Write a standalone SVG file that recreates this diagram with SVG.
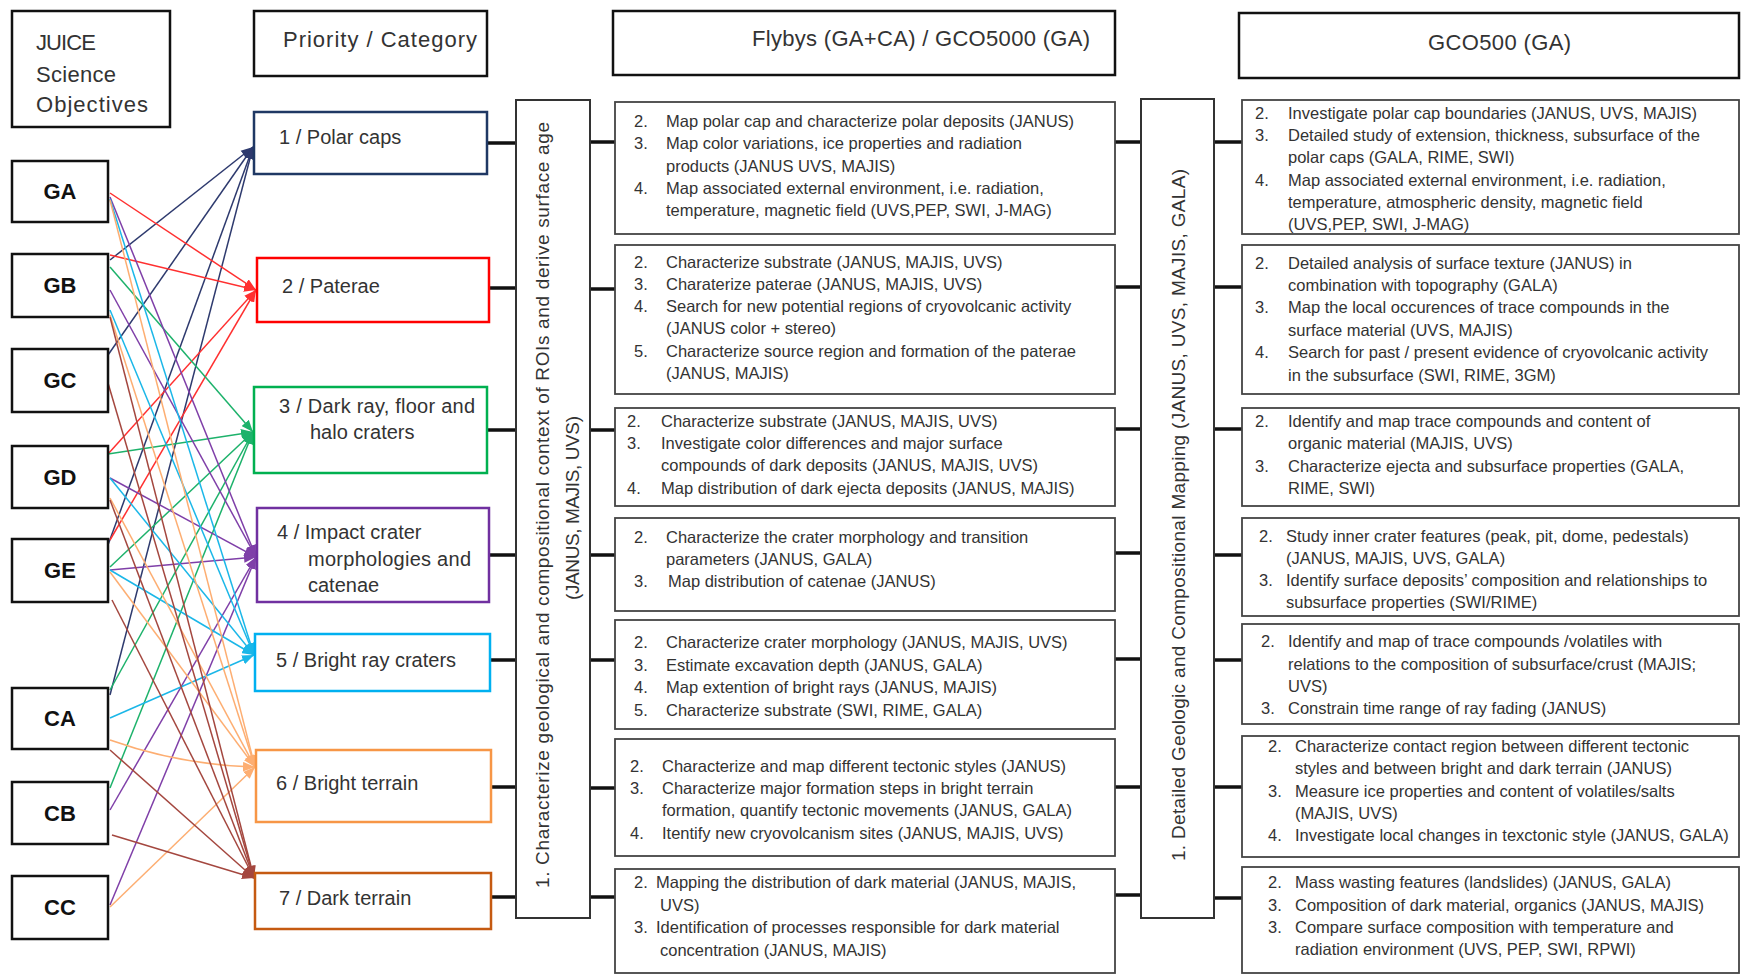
<svg xmlns="http://www.w3.org/2000/svg" width="1741" height="975" viewBox="0 0 1741 975">
<style>
text{font-family:"Liberation Sans",Arial,sans-serif;fill:#333}
.hdr rect,.obj rect{fill:#fff;stroke:#111;stroke-width:2.5}
.hdr text{font-size:22px}
.obj text{font-size:22px;font-weight:bold;fill:#111;text-anchor:middle}
.cat rect{fill:#fff;stroke-width:2.5}
.cat text{font-size:20px}
.box rect{fill:#fff;stroke:#444;stroke-width:1.8}
.box text{font-size:16.5px}
.vbox rect{fill:#fff;stroke:#333;stroke-width:2}
.vbox text{font-size:19px}
.stub line{stroke:#111;stroke-width:3.5}
.edges line,.edges path{stroke-width:1.5;fill:none}
.nv{stroke:#2E3A6E}.rd{stroke:#FF3030}.gr{stroke:#1DB26B}.pu{stroke:#7F3FA8}.cy{stroke:#1BB7E8}.or{stroke:#FDAE72}.br{stroke:#A4473F}
</style>
<defs>
<marker id="mnv" viewBox="0 0 10 8" refX="10" refY="4" markerWidth="12" markerHeight="10" markerUnits="userSpaceOnUse" orient="auto"><path d="M0,0L10,4L0,8z" fill="#2E3A6E"/></marker>
<marker id="mrd" viewBox="0 0 10 8" refX="10" refY="4" markerWidth="12" markerHeight="10" markerUnits="userSpaceOnUse" orient="auto"><path d="M0,0L10,4L0,8z" fill="#FF3030"/></marker>
<marker id="mgr" viewBox="0 0 10 8" refX="10" refY="4" markerWidth="12" markerHeight="10" markerUnits="userSpaceOnUse" orient="auto"><path d="M0,0L10,4L0,8z" fill="#1DB26B"/></marker>
<marker id="mpu" viewBox="0 0 10 8" refX="10" refY="4" markerWidth="12" markerHeight="10" markerUnits="userSpaceOnUse" orient="auto"><path d="M0,0L10,4L0,8z" fill="#7F3FA8"/></marker>
<marker id="mcy" viewBox="0 0 10 8" refX="10" refY="4" markerWidth="12" markerHeight="10" markerUnits="userSpaceOnUse" orient="auto"><path d="M0,0L10,4L0,8z" fill="#1BB7E8"/></marker>
<marker id="mor" viewBox="0 0 10 8" refX="10" refY="4" markerWidth="12" markerHeight="10" markerUnits="userSpaceOnUse" orient="auto"><path d="M0,0L10,4L0,8z" fill="#FDAE72"/></marker>
<marker id="mbr" viewBox="0 0 10 8" refX="10" refY="4" markerWidth="12" markerHeight="10" markerUnits="userSpaceOnUse" orient="auto"><path d="M0,0L10,4L0,8z" fill="#A4473F"/></marker>
</defs>
<rect width="1741" height="975" fill="#fff"/>

<!-- headers -->
<g id="hdr-juice" class="hdr"><rect x="12" y="11" width="158" height="116"/>
<text x="36" y="50" textLength="60">JUICE</text><text x="36" y="82" textLength="80">Science</text><text x="36" y="112" textLength="112">Objectives</text></g>
<g id="hdr-priority" class="hdr"><rect x="254" y="11" width="233" height="65"/><text x="283" y="47" textLength="194">Priority / Category</text></g>
<g id="hdr-flybys" class="hdr"><rect x="613" y="11" width="502" height="64"/><text x="752" y="46" textLength="338">Flybys (GA+CA) / GCO5000 (GA)</text></g>
<g id="hdr-gco500" class="hdr"><rect x="1239" y="13" width="500" height="65"/><text x="1428" y="50" textLength="143">GCO500 (GA)</text></g>

<!-- connectors -->
<g id="connectors">
<g class="stub">
<line x1="487" y1="143" x2="516" y2="143"/><line x1="489" y1="288" x2="516" y2="288"/><line x1="487" y1="430" x2="516" y2="430"/><line x1="489" y1="555" x2="516" y2="555"/><line x1="490" y1="660" x2="516" y2="660"/><line x1="491" y1="787" x2="516" y2="787"/><line x1="491" y1="897" x2="516" y2="897"/>
<line x1="590" y1="142" x2="615" y2="142"/><line x1="590" y1="289" x2="615" y2="289"/><line x1="590" y1="430" x2="615" y2="430"/><line x1="590" y1="555" x2="615" y2="555"/><line x1="590" y1="660" x2="615" y2="660"/><line x1="590" y1="788" x2="615" y2="788"/><line x1="590" y1="897" x2="615" y2="897"/>
<line x1="1115" y1="142" x2="1141" y2="142"/><line x1="1115" y1="287" x2="1141" y2="287"/><line x1="1115" y1="429" x2="1141" y2="429"/><line x1="1115" y1="553" x2="1141" y2="553"/><line x1="1115" y1="659" x2="1141" y2="659"/><line x1="1115" y1="787" x2="1141" y2="787"/><line x1="1115" y1="895" x2="1141" y2="895"/>
<line x1="1214" y1="142" x2="1242" y2="142"/><line x1="1214" y1="287" x2="1242" y2="287"/><line x1="1214" y1="429" x2="1242" y2="429"/><line x1="1214" y1="555" x2="1242" y2="555"/><line x1="1214" y1="660" x2="1242" y2="660"/><line x1="1214" y1="787" x2="1242" y2="787"/><line x1="1214" y1="898" x2="1242" y2="898"/>
</g>
<g class="edges">
<line class="nv" marker-end="url(#mnv)" x1="110" y1="260" x2="253" y2="147"/>
<line class="nv" marker-end="url(#mnv)" x1="108" y1="355" x2="253" y2="147"/>
<line class="nv" marker-end="url(#mnv)" x1="108" y1="545" x2="253" y2="147"/>
<line class="nv" marker-end="url(#mnv)" x1="110" y1="695" x2="253" y2="147"/>
<line class="rd" marker-end="url(#mrd)" x1="110" y1="193" x2="256" y2="290"/>
<line class="rd" marker-end="url(#mrd)" x1="110" y1="255" x2="256" y2="290"/>
<line class="rd" marker-end="url(#mrd)" x1="108" y1="454" x2="256" y2="290"/>
<line class="rd" marker-end="url(#mrd)" x1="110" y1="540" x2="256" y2="290"/>
<line class="gr" marker-end="url(#mgr)" x1="110" y1="267" x2="253" y2="432"/>
<line class="gr" marker-end="url(#mgr)" x1="108" y1="454" x2="253" y2="432"/>
<line class="gr" marker-end="url(#mgr)" x1="110" y1="567" x2="253" y2="432"/>
<line class="gr" marker-end="url(#mgr)" x1="110" y1="690" x2="253" y2="432"/>
<line class="gr" marker-end="url(#mgr)" x1="110" y1="788" x2="253" y2="432"/>
<line class="pu" marker-end="url(#mpu)" x1="110" y1="197" x2="256" y2="557"/>
<line class="pu" marker-end="url(#mpu)" x1="110" y1="290" x2="256" y2="557"/>
<line class="pu" marker-end="url(#mpu)" x1="110" y1="478" x2="256" y2="557"/>
<line class="pu" marker-end="url(#mpu)" x1="110" y1="570" x2="256" y2="557"/>
<line class="pu" marker-end="url(#mpu)" x1="110" y1="810" x2="256" y2="557"/>
<line class="pu" marker-end="url(#mpu)" x1="110" y1="905" x2="256" y2="557"/>
<line class="cy" marker-end="url(#mcy)" x1="110" y1="199" x2="254" y2="655"/>
<line class="cy" marker-end="url(#mcy)" x1="110" y1="310" x2="254" y2="655"/>
<line class="cy" marker-end="url(#mcy)" x1="110" y1="478" x2="254" y2="655"/>
<line class="cy" marker-end="url(#mcy)" x1="110" y1="570" x2="254" y2="655"/>
<line class="cy" marker-end="url(#mcy)" x1="110" y1="718" x2="254" y2="655"/>
<line class="or" marker-end="url(#mor)" x1="110" y1="200" x2="255" y2="767"/>
<line class="or" marker-end="url(#mor)" x1="110" y1="315" x2="255" y2="767"/>
<line class="or" marker-end="url(#mor)" x1="110" y1="498" x2="255" y2="767"/>
<line class="or" marker-end="url(#mor)" x1="110" y1="572" x2="255" y2="767"/>
<path class="or" marker-end="url(#mor)" d="M110,740 Q180,765 255,767"/>
<line class="or" marker-end="url(#mor)" x1="110" y1="907" x2="255" y2="767"/>
<line class="br" marker-end="url(#mbr)" x1="110" y1="317" x2="254" y2="878"/>
<line class="br" marker-end="url(#mbr)" x1="108" y1="383" x2="254" y2="878"/>
<line class="br" marker-end="url(#mbr)" x1="110" y1="500" x2="254" y2="878"/>
<line class="br" marker-end="url(#mbr)" x1="112" y1="600" x2="254" y2="878"/>
<line class="br" marker-end="url(#mbr)" x1="110" y1="750" x2="254" y2="878"/>
<line class="br" marker-end="url(#mbr)" x1="112" y1="835" x2="254" y2="878"/>
</g>
</g>

<!-- objectives -->
<g id="obj-GA" class="obj"><rect x="12" y="161" width="96" height="61"/><text x="60" y="199">GA</text></g>
<g id="obj-GB" class="obj"><rect x="12" y="254" width="96" height="63"/><text x="60" y="293">GB</text></g>
<g id="obj-GC" class="obj"><rect x="12" y="349" width="96" height="63"/><text x="60" y="388">GC</text></g>
<g id="obj-GD" class="obj"><rect x="12" y="446" width="96" height="62"/><text x="60" y="485">GD</text></g>
<g id="obj-GE" class="obj"><rect x="12" y="539" width="96" height="63"/><text x="60" y="578">GE</text></g>
<g id="obj-CA" class="obj"><rect x="12" y="688" width="96" height="61"/><text x="60" y="726">CA</text></g>
<g id="obj-CB" class="obj"><rect x="12" y="782" width="96" height="62"/><text x="60" y="821">CB</text></g>
<g id="obj-CC" class="obj"><rect x="12" y="876" width="96" height="63"/><text x="60" y="915">CC</text></g>

<!-- categories -->
<g id="cat-1" class="cat"><rect x="254" y="112" width="233" height="62" stroke="#1F3864"/><text x="279" y="144">1 / Polar caps</text></g>
<g id="cat-2" class="cat"><rect x="257" y="258" width="232" height="64" stroke="#FF0000"/><text x="282" y="293">2 / Paterae</text></g>
<g id="cat-3" class="cat"><rect x="254" y="387" width="233" height="86" stroke="#00B050"/><text x="279" y="413" textLength="196">3 / Dark ray, floor and</text><text x="310" y="439">halo craters</text></g>
<g id="cat-4" class="cat"><rect x="257" y="508" width="232" height="94" stroke="#7030A0"/><text x="277" y="539">4 / Impact crater</text><text x="308" y="566" textLength="163">morphologies and</text><text x="308" y="592">catenae</text></g>
<g id="cat-5" class="cat"><rect x="255" y="634" width="235" height="57" stroke="#00B0F0"/><text x="276" y="667">5 / Bright ray craters</text></g>
<g id="cat-6" class="cat"><rect x="256" y="750" width="235" height="72" stroke="#F79646"/><text x="276" y="790">6 / Bright terrain</text></g>
<g id="cat-7" class="cat"><rect x="255" y="873" width="236" height="56" stroke="#C55A11"/><text x="279" y="905">7 / Dark terrain</text></g>

<!-- vertical boxes -->
<g id="vbox-1" class="vbox"><rect x="516" y="100" width="74" height="818"/>
<text transform="translate(549,888) rotate(-90)" textLength="766">1.   Characterize geological and compositional context of ROIs and derive surface age</text>
<text transform="translate(579,600) rotate(-90)" textLength="184">(JANUS, MAJIS, UVS)</text></g>
<g id="vbox-2" class="vbox"><rect x="1141" y="99" width="73" height="819"/>
<text transform="translate(1185,861) rotate(-90)" textLength="692">1.  Detailed Geologic and Compositional Mapping (JANUS, UVS, MAJIS, GALA)</text></g>

<!-- flyby boxes -->
<g id="fly-1" class="box"><rect x="615" y="102" width="500" height="132"/>
<text x="634" y="127">2.</text><text x="666" y="127">Map polar cap and characterize polar deposits (JANUS)</text>
<text x="634" y="149">3.</text><text x="666" y="149">Map color variations, ice properties and radiation</text>
<text x="666" y="172">products (JANUS UVS, MAJIS)</text>
<text x="634" y="194">4.</text><text x="666" y="194">Map associated external environment, i.e. radiation,</text>
<text x="666" y="216">temperature, magnetic field (UVS,PEP, SWI, J-MAG)</text></g>
<g id="fly-2" class="box"><rect x="615" y="245" width="500" height="149"/>
<text x="634" y="268">2.</text><text x="666" y="268">Characterize substrate (JANUS, MAJIS, UVS)</text>
<text x="634" y="290">3.</text><text x="666" y="290">Charaterize paterae (JANUS, MAJIS, UVS)</text>
<text x="634" y="312">4.</text><text x="666" y="312">Search for new potential regions of cryovolcanic activity</text>
<text x="666" y="334">(JANUS color + stereo)</text>
<text x="634" y="357">5.</text><text x="666" y="357">Characterize source region and formation of the paterae</text>
<text x="666" y="379">(JANUS, MAJIS)</text></g>
<g id="fly-3" class="box"><rect x="615" y="408" width="500" height="98"/>
<text x="627" y="427">2.</text><text x="661" y="427">Characterize substrate (JANUS, MAJIS, UVS)</text>
<text x="627" y="449">3.</text><text x="661" y="449">Investigate color differences and major surface</text>
<text x="661" y="471">compounds of dark deposits (JANUS, MAJIS, UVS)</text>
<text x="627" y="494">4.</text><text x="661" y="494">Map distribution of dark ejecta deposits (JANUS, MAJIS)</text></g>
<g id="fly-4" class="box"><rect x="615" y="518" width="500" height="93"/>
<text x="634" y="543">2.</text><text x="666" y="543">Characterize the crater morphology and transition</text>
<text x="666" y="565">parameters (JANUS, GALA)</text>
<text x="634" y="587">3.</text><text x="668" y="587">Map distribution of catenae (JANUS)</text></g>
<g id="fly-5" class="box"><rect x="615" y="620" width="500" height="109"/>
<text x="634" y="648">2.</text><text x="666" y="648">Characterize crater morphology (JANUS, MAJIS, UVS)</text>
<text x="634" y="671">3.</text><text x="666" y="671">Estimate excavation depth (JANUS, GALA)</text>
<text x="634" y="693">4.</text><text x="666" y="693">Map extention of bright rays (JANUS, MAJIS)</text>
<text x="634" y="716">5.</text><text x="666" y="716">Characterize substrate (SWI, RIME, GALA)</text></g>
<g id="fly-6" class="box"><rect x="615" y="739" width="500" height="117"/>
<text x="630" y="772">2.</text><text x="662" y="772">Characterize and map different tectonic styles (JANUS)</text>
<text x="630" y="794">3.</text><text x="662" y="794">Characterize major formation steps in bright terrain</text>
<text x="662" y="816">formation, quantify tectonic movements (JANUS, GALA)</text>
<text x="630" y="839">4.</text><text x="662" y="839">Itentify new cryovolcanism sites (JANUS, MAJIS, UVS)</text></g>
<g id="fly-7" class="box"><rect x="615" y="869" width="500" height="104"/>
<text x="634" y="888">2.</text><text x="656" y="888">Mapping the distribution of dark material (JANUS, MAJIS,</text>
<text x="660" y="911">UVS)</text>
<text x="634" y="933">3.</text><text x="656" y="933">Identification of processes responsible for dark material</text>
<text x="660" y="956">concentration (JANUS, MAJIS)</text></g>

<!-- GCO500 boxes -->
<g id="gco-1" class="box"><rect x="1242" y="100" width="497" height="134"/>
<text x="1255" y="119">2.</text><text x="1288" y="119">Investigate polar cap boundaries (JANUS, UVS, MAJIS)</text>
<text x="1255" y="141">3.</text><text x="1288" y="141">Detailed study of extension, thickness, subsurface of the</text>
<text x="1288" y="163">polar caps (GALA, RIME, SWI)</text>
<text x="1255" y="186">4.</text><text x="1288" y="186">Map associated external environment, i.e. radiation,</text>
<text x="1288" y="208">temperature, atmospheric density, magnetic field</text>
<text x="1288" y="230">(UVS,PEP, SWI, J-MAG)</text></g>
<g id="gco-2" class="box"><rect x="1242" y="245" width="497" height="149"/>
<text x="1255" y="269">2.</text><text x="1288" y="269">Detailed analysis of surface texture (JANUS) in</text>
<text x="1288" y="291">combination with topography (GALA)</text>
<text x="1255" y="313">3.</text><text x="1288" y="313">Map the local occurences of trace compounds in the</text>
<text x="1288" y="336">surface material (UVS, MAJIS)</text>
<text x="1255" y="358">4.</text><text x="1288" y="358">Search for past / present evidence of cryovolcanic activity</text>
<text x="1288" y="381">in the subsurface (SWI, RIME, 3GM)</text></g>
<g id="gco-3" class="box"><rect x="1242" y="408" width="497" height="98"/>
<text x="1255" y="427">2.</text><text x="1288" y="427">Identify and map trace compounds and content of</text>
<text x="1288" y="449">organic material (MAJIS, UVS)</text>
<text x="1255" y="472">3.</text><text x="1288" y="472">Characterize ejecta and subsurface properties (GALA,</text>
<text x="1288" y="494">RIME, SWI)</text></g>
<g id="gco-4" class="box"><rect x="1242" y="518" width="497" height="98"/>
<text x="1259" y="542">2.</text><text x="1286" y="542">Study inner crater features (peak, pit, dome, pedestals)</text>
<text x="1286" y="564">(JANUS, MAJIS, UVS, GALA)</text>
<text x="1259" y="586">3.</text><text x="1286" y="586">Identify surface deposits’ composition and relationships to</text>
<text x="1286" y="608">subsurface properties (SWI/RIME)</text></g>
<g id="gco-5" class="box"><rect x="1242" y="624" width="497" height="100"/>
<text x="1261" y="647">2.</text><text x="1288" y="647">Identify and map of trace compounds /volatiles with</text>
<text x="1288" y="670">relations to the composition of subsurface/crust (MAJIS;</text>
<text x="1288" y="692">UVS)</text>
<text x="1261" y="714">3.</text><text x="1288" y="714">Constrain time range of ray fading (JANUS)</text></g>
<g id="gco-6" class="box"><rect x="1242" y="736" width="497" height="121"/>
<text x="1268" y="752">2.</text><text x="1295" y="752">Characterize contact region between different tectonic</text>
<text x="1295" y="774">styles and between bright and dark terrain (JANUS)</text>
<text x="1268" y="797">3.</text><text x="1295" y="797">Measure ice properties and content of volatiles/salts</text>
<text x="1295" y="819">(MAJIS, UVS)</text>
<text x="1268" y="841">4.</text><text x="1295" y="841">Investigate local changes in texctonic style (JANUS, GALA)</text></g>
<g id="gco-7" class="box"><rect x="1242" y="867" width="497" height="106"/>
<text x="1268" y="888">2.</text><text x="1295" y="888">Mass wasting features (landslides) (JANUS, GALA)</text>
<text x="1268" y="911">3.</text><text x="1295" y="911">Composition of dark material, organics (JANUS, MAJIS)</text>
<text x="1268" y="933">3.</text><text x="1295" y="933">Compare surface composition with temperature and</text>
<text x="1295" y="955">radiation environment (UVS, PEP, SWI, RPWI)</text></g>
</svg>
